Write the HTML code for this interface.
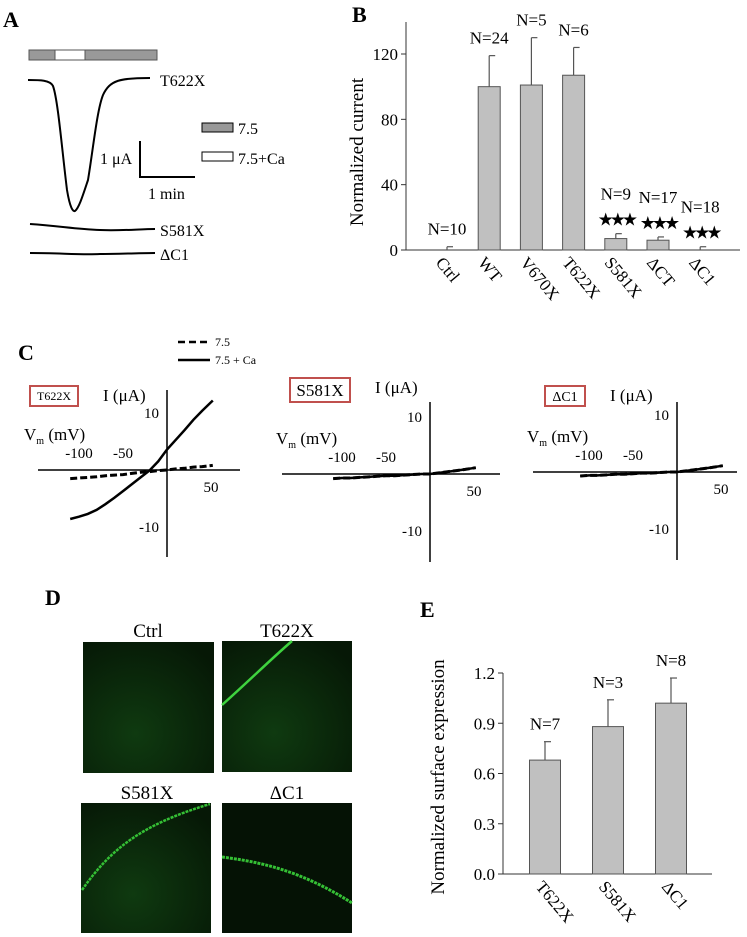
<!DOCTYPE html>
<html><head><meta charset="utf-8"><style>
body{margin:0;background:#fff}
svg{display:block;font-family:"Liberation Serif",serif}
</style></head><body>
<svg id="fig" width="747" height="937" viewBox="0 0 747 937">
<defs>
<radialGradient id="bgG" cx="0.4" cy="0.7" r="0.8"><stop offset="0" stop-color="#0f3a10"/><stop offset="1" stop-color="#061806"/></radialGradient>
</defs>
<!-- Panel A -->
<g>
<text x="3" y="27" font-size="22" font-weight="bold">A</text>
<rect x="29" y="50" width="128" height="10" fill="#999" stroke="#555"/>
<rect x="55" y="50" width="30" height="10" fill="#fff" stroke="#555"/>
<path d="M28,80 C40,80 50,80 53,86 C58,100 62,150 67,190 C70,208 73,212 75,211 C79,208 83,195 88,180 C93,150 97,110 103,95 C110,80 120,78 150,78" fill="none" stroke="#000" stroke-width="2"/>
<text x="160" y="86" font-size="16">T622X</text>
<rect x="202" y="123" width="31" height="9" fill="#999" stroke="#000"/>
<text x="238" y="134" font-size="16">7.5</text>
<rect x="202" y="152" width="31" height="9" fill="#fff" stroke="#000"/>
<text x="238" y="164" font-size="16">7.5+Ca</text>
<path d="M140,141 V177 H195" fill="none" stroke="#000" stroke-width="2"/>
<text x="100" y="164" font-size="16">1 μA</text>
<text x="148" y="199" font-size="16">1 min</text>
<path d="M30,224 C60,226 75,229 100,230 C120,231 140,229 155,229" fill="none" stroke="#000" stroke-width="2"/>
<text x="160" y="236" font-size="16">S581X</text>
<path d="M30,253 C60,253 80,255 100,254 C120,254 140,253 155,253" fill="none" stroke="#000" stroke-width="2"/>
<text x="160" y="260" font-size="16">ΔC1</text>
</g>
<!-- Panel B -->
<g id="panelB">
<text x="352" y="22" font-size="22" font-weight="bold">B</text>
<text transform="translate(363,152) rotate(-90)" font-size="19" text-anchor="middle">Normalized current</text>
</g>
<!-- Panel C -->
<g id="panelC">
<text x="18" y="360" font-size="22" font-weight="bold">C</text>
<line x1="178" y1="342" x2="210" y2="342" stroke="#000" stroke-width="2.5" stroke-dasharray="7,4"/>
<text x="215" y="346" font-size="12">7.5</text>
<line x1="178" y1="360" x2="210" y2="360" stroke="#000" stroke-width="2.5"/>
<text x="215" y="364" font-size="12">7.5 + Ca</text>
</g>
<!-- Panel D -->
<g>
<text x="45" y="605" font-size="22" font-weight="bold">D</text>
<text x="148" y="637" font-size="19" text-anchor="middle">Ctrl</text>
<text x="287" y="637" font-size="19" text-anchor="middle">T622X</text>
<text x="147" y="799" font-size="19" text-anchor="middle">S581X</text>
<text x="287" y="799" font-size="19" text-anchor="middle">ΔC1</text>
<rect x="83" y="642" width="131" height="131" fill="url(#bgG)"/>
<rect x="222" y="641" width="130" height="131" fill="url(#bgG)"/>
<path d="M222,705 C250,680 270,660 292,641" stroke="#3fd33f" stroke-width="2.5" fill="none"/>
<rect x="81" y="803" width="130" height="130" fill="url(#bgG)"/>
<path d="M82,890 C110,850 140,825 210,804" stroke="#35c035" stroke-width="2.5" fill="none" stroke-dasharray="3,1"/>
<rect x="222" y="803" width="130" height="130" fill="#051205"/>
<path d="M222,857 C260,862 300,870 352,903" stroke="#35c035" stroke-width="3" fill="none" stroke-dasharray="3,1"/>
</g>
<!-- Panel E -->
<g id="panelE">
<text x="420" y="617" font-size="22" font-weight="bold">E</text>
<text transform="translate(444,777) rotate(-90)" font-size="19" text-anchor="middle">Normalized surface expression</text>
</g>
</svg>
<script>
// Panel B data
const bCats = ["Ctrl","WT","V670X","T622X","S581X","ΔCT","ΔC1"];
const bVals = [0,100,101,107,7,6,0];
const bErr = [2,19,29,17,3,2,2];
const bN = ["N=10","N=24","N=5","N=6","N=9","N=17","N=18"];
const bSig = [false,false,false,false,true,true,true];
const bTicks = [0,40,80,120];
// Panel C data
const cVm = [-110,-100,-90,-80,-70,-60,-50,-40,-30,-20,-10,0,10,20,30,40,52];
const cT622Ca = [-8.6,-8.2,-7.7,-7.0,-6.0,-4.9,-3.7,-2.5,-1.3,-0.1,1.5,3.6,5.3,7.0,8.8,10.4,12.2];
const cT622Base = [-1.5,-1.4,-1.3,-1.2,-1.0,-0.9,-0.8,-0.6,-0.4,-0.3,-0.1,0,0.2,0.3,0.5,0.6,0.8];
const cS581 = [-0.8,-0.7,-0.7,-0.6,-0.5,-0.4,-0.3,-0.3,-0.2,-0.1,0,0,0.2,0.4,0.6,0.8,1.1];
const cDC1 = [-0.7,-0.6,-0.6,-0.5,-0.4,-0.4,-0.3,-0.2,-0.2,-0.1,0,0,0.2,0.4,0.6,0.8,1.1];
const cXTicks = [-100,-50,50];
const cYTicks = [-10,10];
// Panel E data
const eCats = ["T622X","S581X","ΔC1"];
const eVals = [0.68,0.88,1.02];
const eErr = [0.11,0.16,0.15];
const eN = ["N=7","N=3","N=8"];
const eTicks = [0.0,0.3,0.6,0.9,1.2];

const NS="http://www.w3.org/2000/svg";
function mk(parent,tag,attrs,txt){const e=document.createElementNS(NS,tag);for(const k in attrs)e.setAttribute(k,attrs[k]);if(txt!==undefined)e.textContent=txt;parent.appendChild(e);return e;}

// ---- Panel B
(function(){
const g=document.getElementById('panelB');
const y0=250, pxPer=196/120, x0=406, xStart=447, step=42.2, bw=22;
const yB=v=>y0-v*pxPer, xB=i=>xStart+i*step;
let ax=mk(g,'line',{x1:x0,y1:22,x2:x0,y2:y0,stroke:'#333','stroke-width':1});

ax=mk(g,'line',{x1:x0-5,y1:y0,x2:740,y2:y0,stroke:'#333','stroke-width':1});

bTicks.forEach(t=>{
 const l=mk(g,'line',{x1:x0-5,y1:yB(t),x2:x0,y2:yB(t),stroke:'#333'});
 
 const tx=mk(g,'text',{x:x0-8,y:yB(t)+6,'font-size':17,'text-anchor':'end'},t);
 
});
bCats.forEach((c,i)=>{
 const cx=xB(i);
 const el=mk(g,'line',{x1:cx,y1:yB(bVals[i]),x2:cx,y2:yB(bVals[i]+bErr[i]),stroke:'#555','stroke-width':1.2});
 
 const cap=mk(g,'line',{x1:cx,y1:yB(bVals[i]+bErr[i]),x2:cx+6,y2:yB(bVals[i]+bErr[i]),stroke:'#555','stroke-width':1.2});
 
 if(bVals[i]>0){
  const r=mk(g,'rect',{x:cx-bw/2,y:yB(bVals[i]),width:bw,height:bVals[i]*pxPer,fill:'#c0c0c0',stroke:'#555'});
  
 }
 const top=yB(bVals[i]+bErr[i]);
 let ny=top-12;
 if(bSig[i]){
  const s=mk(g,'text',{x:cx,y:top-8,'font-size':18,'text-anchor':'middle','font-family':'DejaVu Sans','letter-spacing':'-4'},'★★★');
  
  ny=top-34;
 }
 const n=mk(g,'text',{x:cx,y:ny,'font-size':17,'text-anchor':'middle'},bN[i]);
 
 const lab=mk(g,'text',{x:0,y:0,'font-size':17,transform:`translate(${cx-12},${y0+13}) rotate(50)`},c);
 
});
})();

// ---- Panel C
(function(){
const g=document.getElementById('panelC');
const panels=[
 {ox:167,oy:470,top:390,bot:557,xl:38,xr:240,box:[30,386,48,20],name:'T622X',fs:12,series:[[cT622Ca,false],[cT622Base,true]]},
 {ox:430,oy:474,top:402,bot:562,xl:282,xr:500,box:[290,378,60,24],name:'S581X',fs:17,series:[[cS581,false],[cS581,true]]},
 {ox:677,oy:472,top:402,bot:560,xl:533,xr:737,box:[545,386,40,20],name:'ΔC1',fs:14,series:[[cDC1,false],[cDC1,true]]}
];
const sx=0.88, sy=5.7;
panels.forEach((p,pi)=>{
 const X=v=>p.ox+v*sx, Y=v=>p.oy-v*sy;
 const b=mk(g,'rect',{x:p.box[0],y:p.box[1],width:p.box[2],height:p.box[3],fill:'#fff',stroke:'#c0504d','stroke-width':2});
 
 const bt=mk(g,'text',{x:p.box[0]+p.box[2]/2,y:p.box[1]+p.box[3]/2+p.fs*0.35,'font-size':p.fs,'text-anchor':'middle'},p.name);
 
 const il=mk(g,'text',{x:p.box[0]+p.box[2]+25,y:p.box[1]+15,'font-size':17},'I (μA)');
 
 const vl=mk(g,'text',{x:p.xl-14+(pi?8:0),y:p.oy-30,'font-size':17},'V');
 
 mk(vl,'tspan',{'font-size':10,dy:4},'m');mk(vl,'tspan',{dy:-4},' (mV)');
 let a=mk(g,'line',{x1:p.ox,y1:p.top,x2:p.ox,y2:p.bot,stroke:'#000','stroke-width':1.5});
 
 a=mk(g,'line',{x1:p.xl,y1:p.oy,x2:p.xr,y2:p.oy,stroke:'#000','stroke-width':1.5});
 
 cXTicks.forEach(t=>{
  const tx=mk(g,'text',{x:X(t),y:t<0?p.oy-12:p.oy+22,'font-size':15,'text-anchor':'middle'},t);
  
 });
 cYTicks.forEach(t=>{
  const tx=mk(g,'text',{x:p.ox-8,y:Y(t)+5,'font-size':15,'text-anchor':'end'},t);
  
 });
 p.series.forEach(([vals,dash])=>{
  const d=cVm.map((v,i)=>(i?'L':'M')+X(v).toFixed(1)+','+Y(vals[i]).toFixed(1)).join(' ');
  const ln=mk(g,'path',{d:d,fill:'none',stroke:'#000','stroke-width':dash?3:2.5,'stroke-dasharray':dash?'7,3':'none'});
  
 });
});
})();

// ---- Panel E
(function(){
const g=document.getElementById('panelE');
const y0=874, pxPer=201/1.2, x0=503, xStart=545, step=63, bw=31;
const yE=v=>y0-v*pxPer;
let a=mk(g,'line',{x1:x0,y1:yE(1.2),x2:x0,y2:y0,stroke:'#333'});

a=mk(g,'line',{x1:x0-5,y1:y0,x2:712,y2:y0,stroke:'#333'});

eTicks.forEach(t=>{
 const l=mk(g,'line',{x1:x0-5,y1:yE(t),x2:x0,y2:yE(t),stroke:'#333'});
 
 const tx=mk(g,'text',{x:x0-8,y:yE(t)+6,'font-size':17,'text-anchor':'end'},t.toFixed(1));
 
});
eCats.forEach((c,i)=>{
 const cx=xStart+i*step, top=yE(eVals[i]+eErr[i]);
 const el=mk(g,'line',{x1:cx,y1:yE(eVals[i]),x2:cx,y2:top,stroke:'#555','stroke-width':1.2});
 
 const cap=mk(g,'line',{x1:cx-1,y1:top,x2:cx+6,y2:top,stroke:'#555','stroke-width':1.2});
 
 const r=mk(g,'rect',{x:cx-bw/2,y:yE(eVals[i]),width:bw,height:eVals[i]*pxPer,fill:'#c0c0c0',stroke:'#555'});
 
 const n=mk(g,'text',{x:cx,y:top-12,'font-size':17,'text-anchor':'middle'},eN[i]);
 
 const lab=mk(g,'text',{x:0,y:0,'font-size':17,transform:`translate(${cx-10},${y0+13}) rotate(50)`},c);
 
});
})();
</script>
</body></html>
